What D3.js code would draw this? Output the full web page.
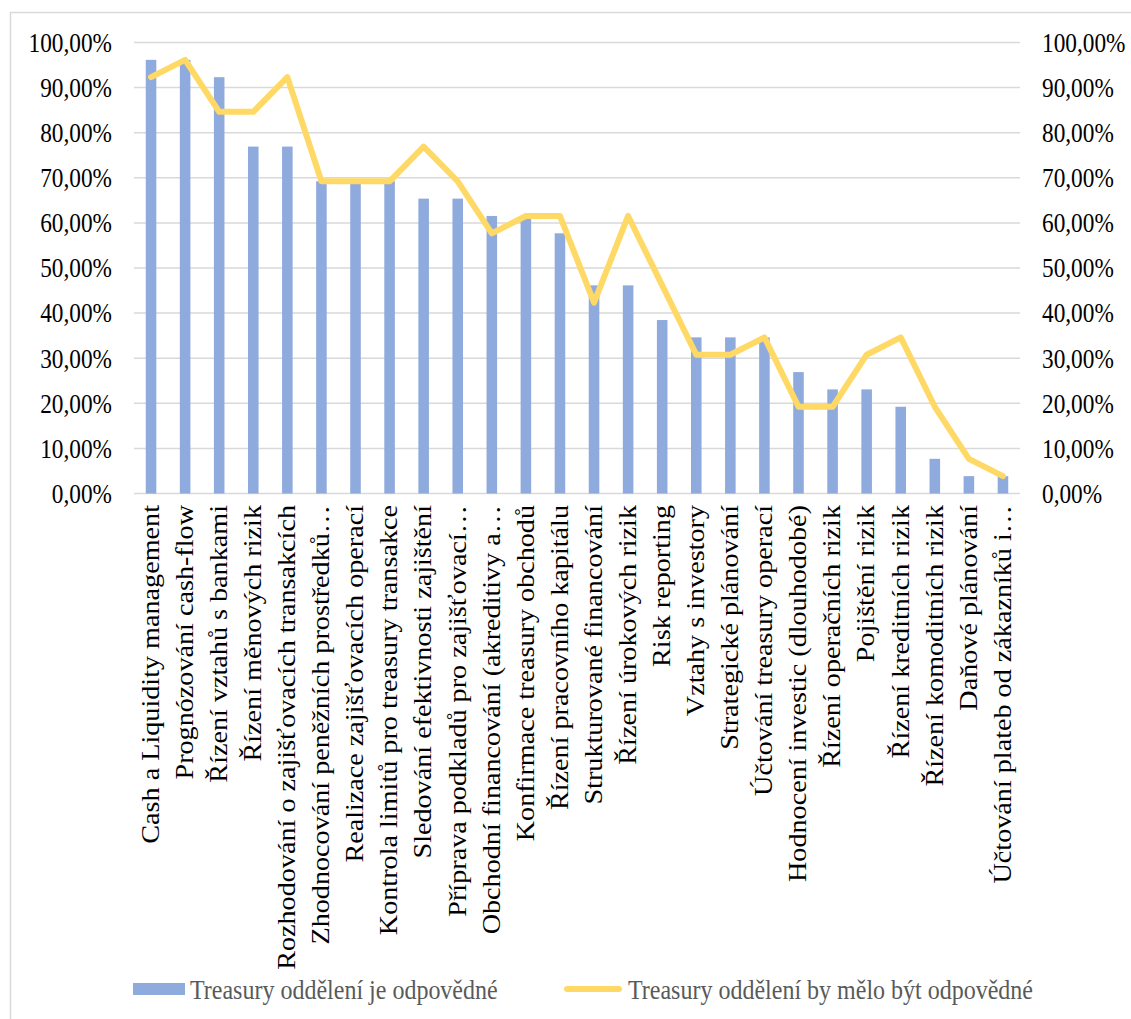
<!DOCTYPE html>
<html>
<head>
<meta charset="utf-8">
<script src="https://cdn.jsdelivr.net/npm/d3@7/dist/d3.min.js"></script>
<style>
  html, body { margin: 0; padding: 0; background: #ffffff; }
  svg { display: block; }
  text { font-family: "Liberation Serif", "Times New Roman", serif; }
</style>
</head>
<body>
<svg id="chart" width="1131" height="1019"></svg>
<script>
const categories = [
  "Cash a Liquidity management",
  "Prognózování cash-flow",
  "Řízení vztahů s bankami",
  "Řízení měnových rizik",
  "Rozhodování o zajišťovacích transakcích",
  "Zhodnocování peněžních prostředků…",
  "Realizace zajišťovacích operací",
  "Kontrola limitů pro treasury transakce",
  "Sledování efektivnosti zajištění",
  "Příprava podkladů pro zajišťovací…",
  "Obchodní financování (akreditivy a…",
  "Konfirmace treasury obchodů",
  "Řízení pracovního kapitálu",
  "Strukturované financování",
  "Řízení úrokových rizik",
  "Risk reporting",
  "Vztahy s investory",
  "Strategické plánování",
  "Účtování treasury operací",
  "Hodnocení investic (dlouhodobé)",
  "Řízení operačních rizik",
  "Pojištění rizik",
  "Řízení kreditních rizik",
  "Řízení komoditních rizik",
  "Daňové plánování",
  "Účtování plateb od zákazníků i…"
];
const responsible = [96.15, 96.15, 92.31, 76.92, 76.92, 69.23, 69.23, 69.23, 65.38, 65.38, 61.54, 61.54, 57.69, 46.15, 46.15, 38.46, 34.62, 34.62, 34.62, 26.92, 23.08, 23.08, 19.23, 7.69, 3.85, 3.85];
const shouldBe = [92.31, 96.15, 84.62, 84.62, 92.31, 69.23, 69.23, 69.23, 76.92, 69.23, 57.69, 61.54, 61.54, 42.31, 61.54, 46.15, 30.77, 30.77, 34.62, 19.23, 19.23, 30.77, 34.62, 19.23, 7.69, 3.85];
const tickValues = [0, 10, 20, 30, 40, 50, 60, 70, 80, 90, 100];
const seriesNames = ["Treasury oddělení je odpovědné", "Treasury oddělení by mělo být odpovědné"];

const barColor = "#8faadc";
const lineColor = "#ffd966";
const gridColor = "#d9d9d9";
const K = 1.15; // vertical text stretch of the reference picture

const svg = d3.select("#chart");

// outer frame
svg.append("path")
  .attr("d", "M10.5,1019 L10.5,12.5 L1131,12.5")
  .attr("fill", "none").attr("stroke", gridColor).attr("stroke-width", 1.5);

const plotLeft = 134, plotRight = 1020, plotTop = 42.5, plotBottom = 493.5;

const x = d3.scaleBand().domain(categories).range([plotLeft, plotRight])
  .paddingInner(0.69).paddingOuter(0.345);
const y = d3.scaleLinear().domain([0, 100]).range([plotBottom, plotTop]);
const fmt = v => d3.format(".2f")(v).replace(".", ",") + "%";

// gridlines
svg.append("g").selectAll("line").data(tickValues).join("line")
  .attr("x1", plotLeft).attr("x2", plotRight)
  .attr("y1", d => y(d)).attr("y2", d => y(d))
  .attr("stroke", gridColor).attr("stroke-width", 1.5);

function styleTicks(g) {
  g.select(".domain").remove();
  g.selectAll(".tick").attr("transform", null);
  g.selectAll("text")
    .attr("font-size", 23.3).attr("fill", "#000")
    .attr("font-family", '"Liberation Serif", "Times New Roman", serif')
    .attr("y", d => y(d)).attr("dy", "0.35em")
    .attr("transform", d => `translate(0,${y(d)}) scale(1,${K}) translate(0,${-y(d)})`);
}

// left axis labels
svg.append("g").attr("transform", `translate(112,0)`)
  .call(d3.axisLeft(y).tickValues(tickValues).tickFormat(fmt).tickSize(0).tickPadding(0))
  .call(styleTicks);

// right axis labels
svg.append("g").attr("transform", `translate(1042,0)`)
  .call(d3.axisRight(y).tickValues(tickValues).tickFormat(fmt).tickSize(0).tickPadding(0))
  .call(styleTicks);

// bars
svg.append("g").selectAll("rect").data(categories).join("rect")
  .attr("x", d => x(d)).attr("width", x.bandwidth())
  .attr("y", (d, i) => y(responsible[i]))
  .attr("height", (d, i) => y(0) - y(responsible[i]))
  .attr("fill", barColor);

// line
const line = d3.line()
  .x((d, i) => x(categories[i]) + x.bandwidth() / 2)
  .y(d => y(d));
svg.append("path").datum(shouldBe)
  .attr("d", line)
  .attr("fill", "none").attr("stroke", lineColor).attr("stroke-width", 6)
  .attr("stroke-linejoin", "round").attr("stroke-linecap", "round");

// category labels
svg.append("g").selectAll("text").data(categories).join("text")
  .attr("transform", d => `translate(${x(d) + x.bandwidth() / 2},505) scale(1,${K}) rotate(-90)`)
  .attr("text-anchor", "end").attr("dy", "0.32em")
  .attr("font-size", 24.5).attr("fill", "#000")
  .text(d => d);

// legend
const legend = svg.append("g");
legend.append("rect").attr("x", 133).attr("y", 983).attr("width", 52).attr("height", 12).attr("fill", barColor);
legend.append("text").attr("transform", `translate(190,989) scale(1,${K})`).attr("dy", "0.35em")
  .attr("font-size", 24).attr("fill", "#595959").text(seriesNames[0]);
legend.append("line").attr("x1", 567).attr("x2", 619).attr("y1", 989).attr("y2", 989)
  .attr("stroke", lineColor).attr("stroke-width", 6).attr("stroke-linecap", "round");
legend.append("text").attr("transform", `translate(628,989) scale(1,${K})`).attr("dy", "0.35em")
  .attr("font-size", 24).attr("fill", "#595959").text(seriesNames[1]);
</script>
</body>
</html>
